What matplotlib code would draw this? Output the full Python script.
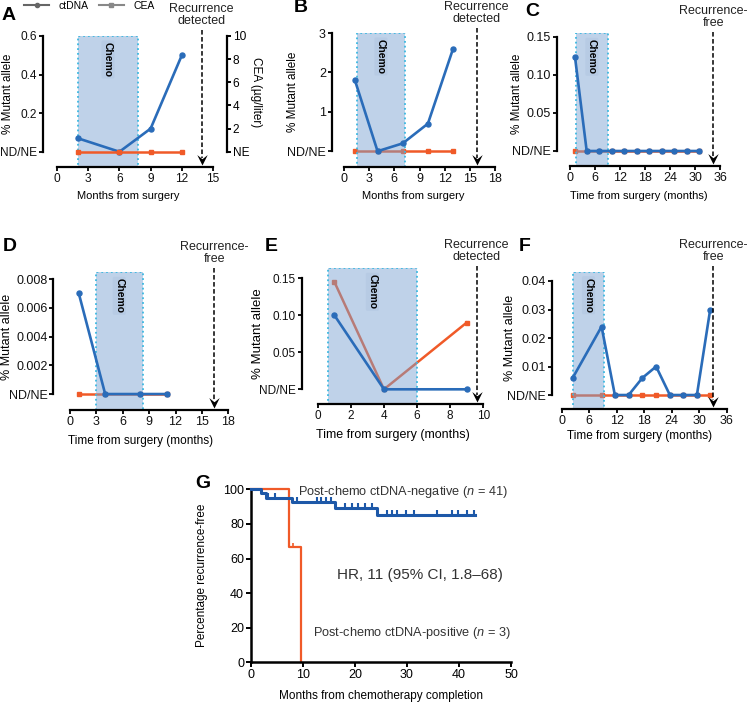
import matplotlib
matplotlib.use('Agg')
import matplotlib.pyplot as plt
from matplotlib.patches import Rectangle
from matplotlib.lines import Line2D
from matplotlib.path import Path
import numpy as np

plt.rcParams['font.family'] = ['Liberation Sans', 'DejaVu Sans']
plt.rcParams['mathtext.fontset'] = 'custom'
plt.rcParams['mathtext.it'] = 'Liberation Sans:italic'
plt.rcParams['mathtext.rm'] = 'Liberation Sans'

BLUE = '#2a6cb9'
RED = '#f05a28'
BOX_FC = (0.47, 0.63, 0.82, 0.47)
BOX_EC = '#3db8e0'

# ---- data (months from surgery, % mutant allele; 0 = ND/NE) ----
a_months = [2, 6, 9, 12]
a_ctdna = [0.07, 0.0, 0.12, 0.5]
a_cea = [0, 0, 0, 0]
a_chemo = [2.0, 7.8]
a_recur = 13.9

b_months = [1.3, 4, 7, 10, 13]
b_ctdna = [1.8, 0.0, 0.2, 0.7, 2.6]
b_cea = [0, 0, 0, 0, 0]
b_chemo = [1.5, 7.3]
b_recur = 15.8

c_months = [1.2, 4, 7, 10, 13, 16, 19, 22, 25, 28, 31]
c_ctdna = [0.123, 0, 0, 0, 0, 0, 0, 0, 0, 0, 0]
c_cea = [0, 0, 0, 0, 0, 0, 0, 0, 0, 0, 0]
c_chemo = [1.5, 9.0]
c_recur = 34.4

d_months = [1, 4, 8, 11]
d_ctdna = [0.007, 0, 0, 0]
d_cea = [0, 0, 0, 0]
d_chemo = [2.9, 8.3]
d_recur = 16.4

e_months = [1, 4, 9]
e_ctdna = [0.10, 0.0, 0.0]
e_cea = [0.145, 0.0, 0.09]
e_chemo = [0.6, 6.0]
e_recur = 9.6

f_months = [2.4, 8.7, 11.6, 14.6, 17.6, 20.6, 23.6, 26.5, 29.5, 32.4]
f_ctdna = [0.006, 0.024, 0, 0, 0.006, 0.010, 0, 0, 0, 0.03]
f_cea = [0, 0, 0, 0, 0, 0, 0, 0, 0, 0]
f_chemo = [2.5, 9.2]
f_recur = 33.1

# Kaplan-Meier (G)
g_neg_t = [0, 2.0, 2.8, 7.8, 16.2, 24.2, 43.0]
g_neg_s = [100, 97.6, 95.1, 92.5, 89.4, 85.2, 85.2]
g_neg_cens = [3.3, 4.6, 8.8, 12.6, 13.5, 14.4, 15.3, 18.1, 19.4, 20.6, 21.9,
              23.2, 26.1, 27.1, 28.0, 29.9, 31.3, 35.7, 38.6, 39.9, 41.5, 42.8]
g_pos_t = [0, 7.4, 9.7]
g_pos_s = [100, 66.7, 0]
g_pos_cens = [8.1]

W, H = 750, 705
fig = plt.figure(figsize=(7.5, 7.05), dpi=100)

head = Path([(0, 0), (-0.5, 1), (0, 0.6), (0.5, 1), (0, 0)])
cens = Path([(0, 0), (0, 1)])


def px_axes(l, r, b, t):
    return fig.add_axes([l / W, 1 - b / H, (r - l) / W, (b - t) / H])


def panel(box, xlim, ylim, xticks, yticks, ylabels, months, ctdna, other, chemo,
          recur, rtext, arrow_top, xlabel, ylab_x, xlab_y, fs=9, lfs=8):
    l, r, b, t = box
    ax = px_axes(l, r, b, t)
    ax.set_xlim(*xlim)
    ax.set_ylim(*ylim)
    fy = lambda ypx: (b - ypx) / (b - t)
    for s in ['top', 'right']:
        ax.spines[s].set_visible(False)
    for s in ['left', 'bottom']:
        ax.spines[s].set_linewidth(1.6)
    ax.spines['left'].set_bounds(yticks[0], yticks[-1])
    ax.spines['bottom'].set_bounds(xticks[0], xticks[-1])
    ax.set_xticks(xticks)
    ax.set_yticks(yticks)
    ax.set_yticklabels(ylabels)
    ax.tick_params(width=1.4, length=3, labelsize=fs, pad=1.2, colors='#111111')
    ax.patch.set_visible(False)

    ax.add_patch(Rectangle((chemo[0], ylim[0]), chemo[1] - chemo[0], ylim[1] - ylim[0],
                           fc=BOX_FC, ec=BOX_EC, ls=':', lw=1.3, zorder=2))
    ax.text((chemo[0] + chemo[1]) / 2, fy(t + 6), 'Chemo', rotation=-90, ha='center',
            va='top', fontsize=7.5, fontweight='bold', transform=ax.get_xaxis_transform(),
            zorder=2.5, bbox=dict(boxstyle='round,pad=0.15', fc=(0.5, 0.62, 0.78, 0.12), ec='none'))

    if other is not None:
        ax.plot(months, other, color=RED, lw=1.8, marker='s', ms=3.5, zorder=1.5, clip_on=False)
    ax.plot(months, ctdna, color=BLUE, lw=1.9, marker='o', ms=3.6, zorder=3, clip_on=False)

    tr = ax.get_xaxis_transform()
    ax.plot([recur, recur], [fy(arrow_top), fy(b - 9)], transform=tr, color='k', lw=1.1,
            ls=(0, (3, 1.6)), clip_on=False, zorder=4)
    ax.plot([recur], [fy(b - 2)], transform=tr, marker=head, ms=15, color='k',
            mew=0, clip_on=False, zorder=4)
    ax.text(recur, fy(arrow_top - 3), rtext, transform=tr, ha='center', va='bottom',
            fontsize=9, linespacing=1.05, color='#222222')

    ax.set_xlabel(xlabel, fontsize=lfs, va='center')
    ax.xaxis.set_label_coords(0.5, fy(xlab_y))
    ax.set_ylabel('% Mutant allele', fontsize=lfs + 0.5, va='center')
    ymid = ax.transData.transform((0, 0.5 * (yticks[0] + yticks[-1])))
    ymid_frac = ax.transAxes.inverted().transform(ymid)[1]
    ax.yaxis.set_label_coords((ylab_x - l) / (r - l), ymid_frac)
    return ax


# A
axA = panel((43, 213, 167, 36), (-1.35, 15), (-0.079, 0.6), [0, 3, 6, 9, 12, 15],
            [0, 0.2, 0.4, 0.6], ['ND/NE', '0.2', '0.4', '0.6'], a_months, a_ctdna, None,
            a_chemo, a_recur, 'Recurrence\ndetected', 30, 'Months from surgery', 8, 196, fs=8.6)
axA2 = axA.twinx()
axA2.set_ylim(-1.32, 10)
for s in ['top', 'left', 'bottom']:
    axA2.spines[s].set_visible(False)
axA2.spines['right'].set_position(('outward', 10))
axA2.spines['right'].set_bounds(0, 10)
axA2.spines['right'].set_linewidth(1.6)
axA2.set_yticks([0, 2, 4, 6, 8, 10])
axA2.set_yticklabels(['NE', '2', '4', '6', '8', '10'])
axA2.tick_params(width=1.4, length=3, labelsize=8.6, pad=1.2)
axA2.plot(a_months, a_cea, color=RED, lw=1.8, marker='s', ms=3.5, zorder=1, clip_on=False)
fig.text(256 / W, 1 - 92 / H, 'CEA (\u00b5g/liter)', rotation=-90, ha='center', va='center', fontsize=8.5)

# B
panel((331.7, 495, 167, 33), (-1.47, 18), (-0.40, 3.0), [0, 3, 6, 9, 12, 15, 18],
      [0, 1, 2, 3], ['ND/NE', '1', '2', '3'], b_months, b_ctdna, b_cea,
      b_chemo, b_recur, 'Recurrence\ndetected', 28, 'Months from surgery', 293, 196)

# C
panel((556.7, 720, 165.7, 33.3), (-3.2, 36), (-0.0193, 0.1545), [0, 6, 12, 18, 24, 30, 36],
      [0, 0.05, 0.10, 0.15], ['ND/NE', '0.05', '0.10', '0.15'], c_months, c_ctdna, c_cea,
      c_chemo, c_recur, 'Recurrence-\nfree', 32, 'Time from surgery (months)', 517, 196)

# D
panel((53.3, 228.3, 410, 272.3), (-1.9, 18), (-0.00111, 0.00847), [0, 3, 6, 9, 12, 15, 18],
      [0, 0.002, 0.004, 0.006, 0.008], ['ND/NE', '0.002', '0.004', '0.006', '0.008'],
      d_months, d_ctdna, d_cea, d_chemo, d_recur, 'Recurrence-\nfree', 268,
      'Time from surgery (months)', 7, 441, lfs=8.5)

# E
panel((301.7, 483.3, 404, 268.3), (-0.97, 10), (-0.0198, 0.1631), [0, 2, 4, 6, 8, 10],
      [0, 0.05, 0.10, 0.15], ['ND/NE', '0.05', '0.10', '0.15'], e_months, e_ctdna, e_cea,
      e_chemo, e_recur, 'Recurrence\ndetected', 266, 'Time from surgery (months)', 258, 435,
      fs=8.5, lfs=9)

# F
panel((551.7, 726.7, 409, 271.7), (-2.18, 36), (-0.0049, 0.04326), [0, 6, 12, 18, 24, 30, 36],
      [0, 0.01, 0.02, 0.03, 0.04], ['ND/NE', '0.01', '0.02', '0.03', '0.04'], f_months, f_ctdna,
      f_cea, f_chemo, f_recur, 'Recurrence-\nfree', 266, 'Time from surgery (months)', 510, 436,
      lfs=8.5)

# G
axG = px_axes(251, 511, 662.3, 489.3)
axG.set_xlim(0, 50)
axG.set_ylim(0, 100)
for s in ['top', 'right']:
    axG.spines[s].set_visible(False)
for s in ['left', 'bottom']:
    axG.spines[s].set_linewidth(1.8)
axG.set_xticks([0, 10, 20, 30, 40, 50])
axG.set_yticks([0, 20, 40, 60, 80, 100])
axG.tick_params(width=1.4, length=3.5, labelsize=9, pad=1.5)
axG.step(g_pos_t, g_pos_s, where='post', color=RED, lw=1.6, clip_on=False, zorder=2)
axG.step(g_neg_t, g_neg_s, where='post', color='#1d58a8', lw=2.2, clip_on=False, zorder=3)
neg_y = [g_neg_s[np.searchsorted(g_neg_t, c, side='right') - 1] for c in g_neg_cens]
axG.plot(g_neg_cens, neg_y, ls='none', marker=cens, ms=7, mew=1.5, color='#1d58a8', zorder=3)
pos_y = [g_pos_s[np.searchsorted(g_pos_t, c, side='right') - 1] for c in g_pos_cens]
axG.plot(g_pos_cens, pos_y, ls='none', marker=cens, ms=6, mew=1.2, color=RED, zorder=2)
axG.set_xlabel('Months from chemotherapy completion', fontsize=8.5, va='center')
axG.xaxis.set_label_coords(0.5, (662.3 - 696) / 173.0)
axG.set_ylabel('Percentage recurrence-free', fontsize=8.5, va='center')
axG.yaxis.set_label_coords((202 - 251) / 260.0, 0.5)
axG.text(9.0, 98.6, 'Post-chemo ctDNA-negative ($n$ = 41)', fontsize=9.2, color='#333333', va='center')
axG.text(16.5, 50.5, 'HR, 11 (95% CI, 1.8\u201368)', fontsize=11, color='#333333', va='center')
axG.text(12.0, 16.8, 'Post-chemo ctDNA-positive ($n$ = 3)', fontsize=9.2, color='#333333', va='center')

# legend
handles = [Line2D([], [], color='#666666', lw=1.5, marker='o', ms=3),
           Line2D([], [], color='#888888', lw=1.5, marker='s', ms=3)]
fig.legend(handles, ['ctDNA', 'CEA'], loc='center left', bbox_to_anchor=(24 / W, 1 - 6 / H),
           ncol=2, frameon=False, fontsize=7.5, handlelength=2.4, columnspacing=0.95,
           handletextpad=0.95, borderaxespad=0, borderpad=0)

# panel letters
for lab, (x, y) in zip('ABCDEFG', [(9, 15), (301, 8), (532, 12), (10, 246), (271, 246),
                                   (525, 246), (203, 483)]):
    fig.text(x / W, 1 - y / H, lab, fontsize=14, fontweight='bold', ha='center', va='center')

fig.savefig('out.png', dpi=100)
